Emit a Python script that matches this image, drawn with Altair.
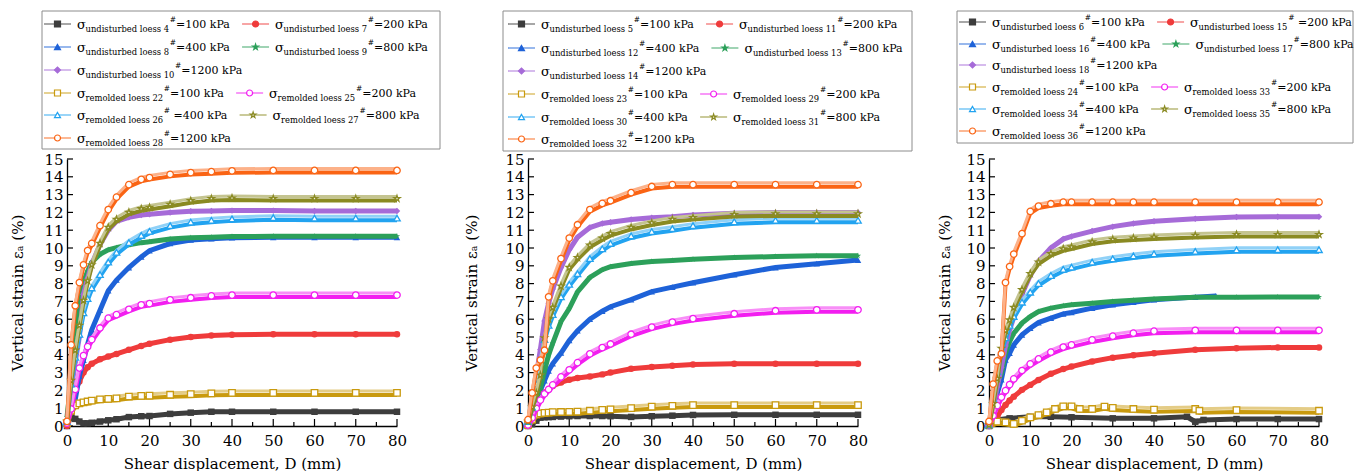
import altair as alt
import pandas as pd

FONT = "DejaVu Serif"

# ---------------- data ----------------
X_GRID = [0, 1, 2, 3, 4, 5, 6, 8, 10, 12, 15, 18, 20, 25, 30, 35, 40, 50, 60, 70, 80]

P1_U100 = [0.0, 0.55, 0.4, 0.25, 0.15, 0.15, 0.18, 0.25, 0.32, 0.38, 0.5, 0.55, 0.56, 0.68, 0.75, 0.8, 0.8, 0.8, 0.8, 0.8, 0.8]
P1_U200 = [0.0, 1.0, 2.0, 2.5, 3.0, 3.3, 3.5, 3.75, 3.9, 4.05, 4.28, 4.5, 4.62, 4.85, 5.0, 5.08, 5.13, 5.15, 5.15, 5.15, 5.15]
P1_U400 = [0.2, 0.8, 1.5, 2.8, 3.7, 4.6, 5.4, 6.5, 7.6, 8.2, 8.9, 9.5, 9.85, 10.25, 10.45, 10.52, 10.58, 10.6, 10.6, 10.6, 10.6]
P1_U800 = [0.5, 2.6, 5.0, 6.9, 8.1, 8.7, 9.2, 9.65, 9.9, 10.02, 10.18, 10.3, 10.35, 10.5, 10.57, 10.6, 10.64, 10.66, 10.66, 10.66, 10.66]
P1_U1200 = [0.3, 2.0, 3.6, 5.0, 7.4, 8.3, 9.1, 10.2, 11.0, 11.5, 11.72, 11.85, 11.9, 12.0, 12.06, 12.08, 12.1, 12.1, 12.08, 12.08, 12.08]
P1_R100 = [0.1, 0.8, 1.1, 1.22, 1.27, 1.32, 1.37, 1.44, 1.47, 1.5, 1.6, 1.64, 1.65, 1.7, 1.73, 1.78, 1.8, 1.8, 1.8, 1.8, 1.8]
P1_R200 = [0.1, 0.9, 2.0, 3.2, 3.9, 4.4, 4.8, 5.45, 6.0, 6.2, 6.5, 6.75, 6.82, 7.03, 7.15, 7.25, 7.3, 7.3, 7.3, 7.3, 7.3]
P1_R400 = [0.2, 2.3, 3.8, 5.1, 6.3, 7.1, 7.7, 8.45, 9.15, 9.7, 10.25, 10.65, 10.88, 11.2, 11.4, 11.5, 11.58, 11.65, 11.62, 11.62, 11.62]
P1_R800 = [0.2, 2.5, 4.2, 5.6, 7.0, 8.1, 9.0, 10.2, 11.1, 11.55, 11.95, 12.15, 12.22, 12.4, 12.6, 12.72, 12.75, 12.72, 12.72, 12.72, 12.72]
P1_R1200 = [0.2, 4.5, 6.7, 8.0, 9.0, 9.8, 10.2, 11.2, 12.1, 12.8, 13.5, 13.8, 13.9, 14.08, 14.18, 14.23, 14.28, 14.3, 14.3, 14.3, 14.3]

P2_U100 = [0.0, 0.1, 0.3, 0.47, 0.49, 0.5, 0.51, 0.53, 0.55, 0.56, 0.56, 0.56, 0.55, 0.51, 0.55, 0.58, 0.62, 0.63, 0.63, 0.63, 0.63]
P2_U200 = [0.0, 0.3, 1.0, 1.5, 1.88, 2.05, 2.25, 2.45, 2.6, 2.7, 2.78, 2.9, 3.0, 3.22, 3.32, 3.38, 3.46, 3.5, 3.5, 3.5, 3.5]
P2_U400 = [0.0, 0.5, 1.3, 2.0, 2.55, 3.1, 3.5, 4.1, 4.8, 5.35, 6.0, 6.45, 6.7, 7.1, 7.55, 7.8, 8.05, 8.5, 8.9, 9.12, 9.32]
P2_U800 = [0.1, 0.7, 1.5, 2.1, 3.1, 4.0, 4.65, 5.87, 6.6, 7.53, 8.35, 8.78, 8.95, 9.13, 9.24, 9.3, 9.37, 9.46, 9.52, 9.56, 9.56]
P2_U1200 = [0.1, 1.2, 2.8, 4.3, 5.9, 6.9, 7.7, 8.9, 9.9, 10.6, 11.15, 11.38, 11.45, 11.6, 11.7, 11.75, 11.85, 11.95, 12.0, 12.0, 12.0]
P2_R100 = [0.0, 0.3, 0.58, 0.65, 0.68, 0.7, 0.72, 0.73, 0.74, 0.75, 0.8, 0.85, 0.88, 0.95, 1.03, 1.08, 1.12, 1.12, 1.12, 1.12, 1.12]
P2_R200 = [0.0, 0.4, 0.94, 1.4, 1.75, 2.0, 2.25, 2.7, 3.1, 3.5, 4.0, 4.35, 4.55, 5.1, 5.5, 5.78, 5.98, 6.25, 6.42, 6.47, 6.47]
P2_R400 = [0.2, 1.0, 2.3, 3.6, 4.8, 5.6, 6.2, 7.2, 7.9, 8.5, 9.35, 9.9, 10.2, 10.62, 10.87, 11.03, 11.2, 11.42, 11.5, 11.5, 11.5]
P2_R800 = [0.2, 1.0, 1.8, 2.8, 4.9, 5.95, 6.6, 7.8, 8.85, 9.4, 10.1, 10.5, 10.75, 11.1, 11.35, 11.55, 11.65, 11.82, 11.86, 11.86, 11.86]
P2_R1200 = [0.3, 1.8, 3.2, 3.65, 4.2, 7.2, 8.1, 9.35, 10.5, 11.25, 12.1, 12.45, 12.6, 13.05, 13.4, 13.5, 13.5, 13.5, 13.5, 13.5, 13.5]

P3_U100_X = [0, 2, 5, 10, 15, 20, 30, 40, 48, 50, 52, 60, 70, 80]
P3_U100 = [0.0, 0.34, 0.43, 0.52, 0.52, 0.49, 0.43, 0.43, 0.52, 0.24, 0.34, 0.39, 0.39, 0.39]
P3_U200 = [0.0, 0.2, 0.52, 0.9, 1.18, 1.43, 1.65, 2.03, 2.31, 2.59, 2.93, 3.2, 3.34, 3.62, 3.84, 3.98, 4.09, 4.28, 4.37, 4.41, 4.41]
P3_U400_X = [0, 1, 2, 3, 4, 5, 6, 8, 10, 12, 15, 18, 20, 25, 30, 35, 40, 50, 55]
P3_U400 = [0.0, 0.8, 1.84, 2.6, 3.71, 4.09, 4.56, 5.12, 5.49, 5.81, 6.06, 6.3, 6.38, 6.62, 6.81, 6.95, 7.09, 7.24, 7.31]
P3_U800 = [0.0, 1.0, 2.4, 2.96, 4.09, 4.74, 5.21, 5.78, 6.15, 6.43, 6.62, 6.75, 6.81, 6.9, 6.99, 7.06, 7.13, 7.24, 7.24, 7.25, 7.25]
P3_U1200 = [0.0, 1.0, 2.2, 3.3, 4.5, 5.4, 6.1, 7.4, 8.45, 9.25, 10.0, 10.5, 10.65, 10.95, 11.2, 11.38, 11.5, 11.64, 11.74, 11.76, 11.76]
P3_R100_X = [0, 2, 4, 6, 8, 10, 12, 14, 16, 18, 20, 22, 25, 28, 30, 35, 40, 50, 51, 60, 80]
P3_R100 = [0.0, 0.19, 0.15, 0.06, 0.24, 0.43, 0.56, 0.71, 0.9, 1.05, 1.05, 0.9, 0.9, 1.03, 0.96, 0.9, 0.86, 0.9, 0.8, 0.84, 0.8]
P3_R200 = [0.0, 0.52, 1.09, 1.56, 1.93, 2.27, 2.59, 3.06, 3.43, 3.71, 4.09, 4.38, 4.5, 4.78, 4.99, 5.16, 5.27, 5.32, 5.32, 5.32, 5.32]
P3_R400 = [0.0, 1.5, 3.0, 4.1, 4.9, 5.6, 6.1, 6.9, 7.46, 7.95, 8.4, 8.75, 8.87, 9.15, 9.34, 9.5, 9.62, 9.75, 9.84, 9.85, 9.85]
P3_R800 = [0.0, 1.2, 2.6, 4.3, 5.3, 5.9, 6.6, 7.6, 8.5, 9.15, 9.62, 9.9, 10.0, 10.28, 10.43, 10.5, 10.56, 10.65, 10.7, 10.7, 10.7]
P3_R1200 = [0.2, 2.3, 3.6, 4.0, 8.0, 8.9, 9.6, 10.75, 12.0, 12.3, 12.43, 12.52, 12.52, 12.52, 12.52, 12.52, 12.52, 12.52, 12.52, 12.52, 12.52]

PRESSURE_TEXT = ["=100 kPa", "=200 kPa", "=400 kPa", "=800 kPa", "=1200 kPa",
                 "=100 kPa", "=200 kPa", "=400 kPa", "=800 kPa", "=1200 kPa"]
P1_SUB = ["undisturbed loess 4", "undisturbed loess 7", "undisturbed loess 8", "undisturbed loess 9",
          "undisturbed loess 10", "remolded loess 22", "remolded loess 25", "remolded loess 26",
          "remolded loess 27", "remolded loess 28"]
P2_SUB = ["undisturbed loess 5", "undisturbed loess 11", "undisturbed loess 12", "undisturbed loess 13",
          "undisturbed loess 14", "remolded loess 23", "remolded loess 29", "remolded loess 30",
          "remolded loess 31", "remolded loess 32"]
P3_SUB = ["undisturbed loess 6", "undisturbed loess 15", "undisturbed loess 16", "undisturbed loess 17",
          "undisturbed loess 18", "remolded loess 24", "remolded loess 33", "remolded loess 34",
          "remolded loess 35", "remolded loess 36"]
# entries whose "=" is preceded by a space in the original legend
P1_SPACED = [7]
P2_SPACED = []
P3_SPACED = [1]

KEYS = ["U100", "U200", "U400", "U800", "U1200", "R100", "R200", "R400", "R800", "R1200"]
COLORS = {"U100": "#3d3d3d", "U200": "#ef3b3b", "U400": "#1e62d8", "U800": "#2ca05a",
          "U1200": "#a66bd8", "R100": "#c99a0e", "R200": "#f21ef0", "R400": "#22a3f0",
          "R800": "#8a8a22", "R1200": "#fa6414"}
STAR = ("M0,-1L0.2245,-0.309L0.951,-0.309L0.363,0.118L0.588,0.809L0,0.382"
        "L-0.588,0.809L-0.363,0.118L-0.951,-0.309L-0.2245,-0.309Z")
SHAPES = {"U100": "square", "U200": "circle", "U400": "triangle-up", "U800": STAR,
          "U1200": "diamond", "R100": "square", "R200": "circle", "R400": "triangle-up",
          "R800": STAR, "R1200": "circle"}

PANEL_DATA = [
    {"U100": (X_GRID, P1_U100), "U200": (X_GRID, P1_U200), "U400": (X_GRID, P1_U400),
     "U800": (X_GRID, P1_U800), "U1200": (X_GRID, P1_U1200), "R100": (X_GRID, P1_R100),
     "R200": (X_GRID, P1_R200), "R400": (X_GRID, P1_R400), "R800": (X_GRID, P1_R800),
     "R1200": (X_GRID, P1_R1200)},
    {"U100": (X_GRID, P2_U100), "U200": (X_GRID, P2_U200), "U400": (X_GRID, P2_U400),
     "U800": (X_GRID, P2_U800), "U1200": (X_GRID, P2_U1200), "R100": (X_GRID, P2_R100),
     "R200": (X_GRID, P2_R200), "R400": (X_GRID, P2_R400), "R800": (X_GRID, P2_R800),
     "R1200": (X_GRID, P2_R1200)},
    {"U100": (P3_U100_X, P3_U100), "U200": (X_GRID, P3_U200), "U400": (P3_U400_X, P3_U400),
     "U800": (X_GRID, P3_U800), "U1200": (X_GRID, P3_U1200), "R100": (P3_R100_X, P3_R100),
     "R200": (X_GRID, P3_R200), "R400": (X_GRID, P3_R400), "R800": (X_GRID, P3_R800),
     "R1200": (X_GRID, P3_R1200)},
]
PANEL_SUB = [P1_SUB, P2_SUB, P3_SUB]
PANEL_SPACED = [P1_SPACED, P2_SPACED, P3_SPACED]

# ---------------- layout (pixels, relative to each plot area) ----------------
W, H = 330, 267
LAYOUT = [
    {"box": (-25, 373, -148, -10), "rows": [-135, -112, -89, -66, -44, -21], "line0": -23, "ytx": -50},
    {"box": (-25, 384, -148, -8), "rows": [-135, -111, -88, -65, -42, -20], "line0": -20, "ytx": -57},
    {"box": (-32, 364, -148, -16), "rows": [-137, -115, -94, -72, -50, -28], "line0": -30, "ytx": -45},
]
ROWS = [[0, 1], [2, 3], [4], [5, 6], [7, 8], [9]]

# DejaVu Serif advance widths (em)
TW = {' ': 0.318, '#': 0.838, '=': 0.838, '0': 0.636, '1': 0.636, '2': 0.636, '3': 0.636,
      '4': 0.636, '5': 0.636, '6': 0.636, '7': 0.636, '8': 0.636, '9': 0.636, 'a': 0.596,
      'b': 0.640, 'd': 0.640, 'e': 0.592, 'i': 0.320, 'k': 0.610, 'l': 0.320, 'm': 0.948,
      'n': 0.644, 'o': 0.602, 'r': 0.478, 's': 0.513, 't': 0.402, 'u': 0.644, 'P': 0.733}
F_MAIN, F_SUB, F_SUP, F_SIG = 11, 8.4, 7.5, 13


def tw(s, size):
    return sum(TW.get(c, 0.6) for c in s) * size


def light(hexc, f=0.55):
    r, g, b = (int(hexc[i:i + 2], 16) for i in (1, 3, 5))
    r, g, b = (int(v + (255 - v) * f) for v in (r, g, b))
    return "#%02x%02x%02x" % (r, g, b)


def legend_frame(idx):
    lay = LAYOUT[idx]
    subs = PANEL_SUB[idx]
    spaced = PANEL_SPACED[idx]
    rows = []
    for r, entries in enumerate(ROWS):
        y = lay["rows"][r]
        x = lay["line0"]
        for e in entries:
            key = KEYS[e]
            col = COLORS[key]
            sig_x = x + 33
            sub_x = sig_x + 8.5
            sup_x = sub_x + tw(subs[e], F_SUB) + 0.5
            rest_x = sup_x + tw("#", F_SUP) + (3.5 if e in spaced else 0)
            end = rest_x + tw(PRESSURE_TEXT[e], F_MAIN)
            rows.append({"lx1": x, "lx2": x + 27, "mx": x + 13.5, "ly": y, "col": col,
                         "lcol": light(col, 0.3), "shp": SHAPES[key],
                         "fillc": "white" if key.startswith("R") else col,
                         "sx": sig_x, "sy": y + 4.5, "sub": subs[e], "subx": sub_x, "suby": y + 7.5,
                         "supx": sup_x, "supy": y - 2.5, "rest": PRESSURE_TEXT[e], "restx": rest_x,
                         "resty": y + 4, "sig": "σ", "hash": "#"})
            x = end + 11
    return pd.DataFrame(rows)


def panel(idx):
    lay = LAYOUT[idx]
    xsc = alt.Scale(domain=[0, 80], nice=False, zero=False)
    ysc = alt.Scale(domain=[0, 15], nice=False, zero=False)
    xaxis = alt.Axis(values=list(range(0, 81, 10)), ticks=False, grid=False, domainColor="black",
                     domainWidth=1.3, labelFont=FONT, labelFontSize=15, labelColor="black",
                     labelPadding=7, labelFlush=False, labelOverlap=False,
                     title="Shear displacement, D (mm)", titleFont=FONT, titleFontSize=15,
                     titleFontWeight="normal", titleColor="black", titlePadding=8)
    yaxis = alt.Axis(values=list(range(16)), ticks=False, grid=False, domainColor="black",
                     domainWidth=1.3, labelFont=FONT, labelFontSize=15, labelColor="black",
                     labelPadding=4, labelFlush=False, labelOverlap=False,
                     title="Vertical strain εₐ   (%)", titleFont=FONT, titleFontSize=15,
                     titleFontWeight="normal", titleColor="black", titleX=lay["ytx"],
                     titleY=H / 2, titleAngle=270, titleAlign="center", titleBaseline="middle")

    def X(f):
        return alt.X(f, type="quantitative", scale=xsc, axis=xaxis)

    def Y(f):
        return alt.Y(f, type="quantitative", scale=ysc, axis=yaxis)

    layers = []
    bx0, bx1, by0, by1 = lay["box"]
    layers.append(alt.Chart(pd.DataFrame({"a": [0]})).mark_rect(
        fill="white", stroke="#8c8c8c", strokeWidth=1).encode(
        x=alt.value(bx0), x2=alt.value(bx1), y=alt.value(by0), y2=alt.value(by1)))

    # inward ticks
    layers.append(alt.Chart(pd.DataFrame({"t": list(range(0, 81, 10))})).mark_rule(
        color="black", strokeWidth=1.2).encode(x=X("t"), y=alt.value(H), y2=alt.value(H - 7)))
    layers.append(alt.Chart(pd.DataFrame({"t": list(range(5, 80, 10))})).mark_rule(
        color="black", strokeWidth=1.2).encode(x=X("t"), y=alt.value(H), y2=alt.value(H - 4)))
    layers.append(alt.Chart(pd.DataFrame({"t": list(range(16))})).mark_rule(
        color="black", strokeWidth=1.2).encode(y=Y("t"), x=alt.value(0), x2=alt.value(6)))

    data = PANEL_DATA[idx]
    for key in KEYS:
        xs, ys = data[key]
        df = pd.DataFrame({"x": xs, "y": ys})
        col = COLORS[key]
        base = alt.Chart(df)
        if key.startswith("R"):
            layers.append(base.mark_line(color=col, strokeWidth=4, yOffset=1).encode(x=X("x"), y=Y("y")))
            layers.append(base.mark_line(color=light(col, 0.5), strokeWidth=3, yOffset=-3).encode(x=X("x"), y=Y("y")))
            layers.append(base.mark_point(shape=SHAPES[key], size=42, filled=True, fill="white",
                                          stroke=col, strokeWidth=1.3, opacity=1, yOffset=-1).encode(x=X("x"), y=Y("y")))
        else:
            layers.append(base.mark_line(color=col, strokeWidth=5).encode(x=X("x"), y=Y("y")))
            layers.append(base.mark_point(shape=SHAPES[key], size=42, filled=True, color=col,
                                          opacity=1).encode(x=X("x"), y=Y("y")))

    leg = legend_frame(idx)
    lb = alt.Chart(leg)
    layers.append(lb.mark_rule(strokeWidth=1.3).encode(
        x=alt.X("lx1:Q", scale=None), x2="lx2:Q", y=alt.Y("ly:Q", scale=None),
        color=alt.Color("lcol:N", scale=None)))
    layers.append(lb.mark_point(size=36, filled=True, strokeWidth=1.2, opacity=1).encode(
        x=alt.X("mx:Q", scale=None), y=alt.Y("ly:Q", scale=None),
        shape=alt.Shape("shp:N", scale=None), fill=alt.Fill("fillc:N", scale=None),
        stroke=alt.Stroke("col:N", scale=None)))
    for tx, tyc, ttc, fs in [("sx", "sy", "sig", F_SIG), ("subx", "suby", "sub", F_SUB),
                             ("supx", "supy", "hash", F_SUP), ("restx", "resty", "rest", F_MAIN)]:
        layers.append(lb.mark_text(align="left", baseline="alphabetic", font=FONT, fontSize=fs,
                                   color="black").encode(
            x=alt.X(tx + ":Q", scale=None), y=alt.Y(tyc + ":Q", scale=None), text=ttc + ":N"))

    return alt.layer(*layers).properties(width=W, height=H)


chart = alt.hconcat(panel(0), panel(1), panel(2), spacing=131, bounds="flush").properties(
    padding={"left": 2, "top": 2, "right": 0, "bottom": 0}
).configure_view(stroke=None)

chart.save("out.html", embed_options={"renderer": "svg", "actions": False})
